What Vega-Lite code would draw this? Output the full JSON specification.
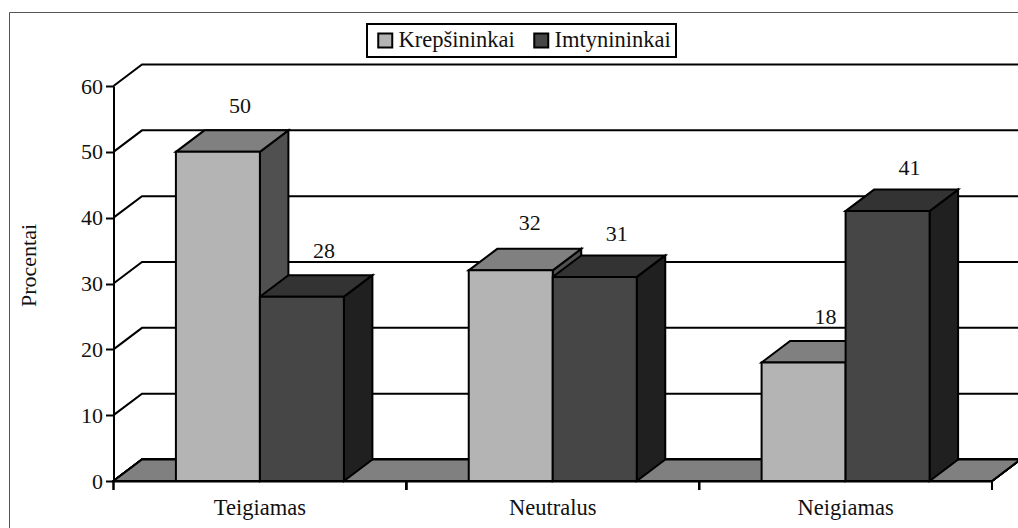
{
"$schema":"https://vega.github.io/schema/vega-lite/v6.json",
"width":1009,"height":516,
"autosize":{"type":"none"},
"padding":{"left":9,"top":12,"right":0,"bottom":0},
"background":"white",
"view":{"stroke":"#555555","strokeWidth":1,"fill":"white"},
"config":{"font":"Liberation Serif","legend":{"strokeWidth":2}},
"data":{"values":[
{"kategorija":"Teigiamas","grupe":"Krepšininkai","procentai":50},
{"kategorija":"Teigiamas","grupe":"Imtynininkai","procentai":28},
{"kategorija":"Neutralus","grupe":"Krepšininkai","procentai":32},
{"kategorija":"Neutralus","grupe":"Imtynininkai","procentai":31},
{"kategorija":"Neigiamas","grupe":"Krepšininkai","procentai":18},
{"kategorija":"Neigiamas","grupe":"Imtynininkai","procentai":41}
]},
"resolve":{"scale":{"fill":"independent"},"legend":{"fill":"independent"}},
"layer":[
{"mark":{"type":"point","filled":true,"opacity":1,"size":4,"fill":"#808080","stroke":"black","strokeWidth":2,
 "shape":"M-146.4 0L732 0L760.5 -21.5L-117.9 -21.5Z"},
 "encoding":{"x":{"datum":"Teigiamas","type":"nominal","scale":{"domain":["Teigiamas","Neutralus","Neigiamas"],"range":[104.5,983],"paddingInner":0.4263,"paddingOuter":0.2131}},
 "y":{"datum":0,"type":"quantitative","scale":{"domain":[0,60],"range":[469,74],"nice":false}}}},
{"data":{"values":[{"riba":10},{"riba":20},{"riba":30},{"riba":40},{"riba":50},{"riba":60}]},
 "mark":{"type":"point","filled":false,"opacity":1,"size":4,"stroke":"black","strokeWidth":2,
 "shape":"M-146.4 0L-117.9 -21.5L760.5 -21.5"},
 "encoding":{"x":{"datum":"Teigiamas","type":"nominal"},
 "y":{"field":"riba","type":"quantitative"}}},
{"mark":{"type":"point","filled":false,"opacity":1,"size":4,"stroke":"black","strokeWidth":2,
 "shape":"M-146.4 0L-146.4 9M146.4 0L146.4 9"},
 "encoding":{"x":{"field":"kategorija","type":"nominal"},
 "y":{"datum":0,"type":"quantitative"}}},
{"mark":{"type":"point","filled":true,"opacity":1,"size":4,"stroke":"black","strokeWidth":2},
 "encoding":{"x":{"field":"kategorija","type":"nominal"},
 "xOffset":{"field":"grupe","type":"nominal","scale":{"domain":["Krepšininkai","Imtynininkai"],"paddingInner":0,"paddingOuter":0}},
 "y":{"field":"procentai","type":"quantitative"},
 "fill":{"field":"grupe","type":"nominal","legend":null,"scale":{"domain":["Krepšininkai","Imtynininkai"],"range":["#505050","#202020"]}},
 "shape":{"field":"procentai","type":"nominal","legend":null,"scale":{"domain":[50,28,32,31,18,41],"range":[
 "M42 0L70.5 -21.5L70.5 307.7L42 329.2Z",
 "M42 0L70.5 -21.5L70.5 162.8L42 184.3Z",
 "M42 0L70.5 -21.5L70.5 189.2L42 210.7Z",
 "M42 0L70.5 -21.5L70.5 182.6L42 204.1Z",
 "M42 0L70.5 -21.5L70.5 97L42 118.5Z",
 "M42 0L70.5 -21.5L70.5 248.4L42 269.9Z"]}}}},
{"mark":{"type":"point","filled":true,"opacity":1,"size":4,"stroke":"black","strokeWidth":2,
 "shape":"M-42 0L42 0L70.5 -21.5L-13.5 -21.5Z"},
 "encoding":{"x":{"field":"kategorija","type":"nominal"},
 "xOffset":{"field":"grupe","type":"nominal"},
 "y":{"field":"procentai","type":"quantitative"},
 "fill":{"field":"grupe","type":"nominal","legend":null,"scale":{"domain":["Krepšininkai","Imtynininkai"],"range":["#808080","#333333"]}}}},
{"mark":{"type":"bar","stroke":"black","strokeWidth":2},
 "encoding":{"x":{"field":"kategorija","type":"nominal","title":null,
 "axis":{"orient":"bottom","offset":-47,"labelAngle":0,"labelAlign":"center","labelFontSize":22.5,"labelColor":"#111111","labelFont":"Liberation Serif","domainColor":"black","domainWidth":2,"ticks":false,"labelPadding":26,"zindex":1}},
 "xOffset":{"field":"grupe","type":"nominal"},
 "y":{"field":"procentai","type":"quantitative","title":"Procentai",
 "axis":{"orient":"left","offset":-104.5,"values":[0,10,20,30,40,50,60],"grid":false,"labelFontSize":22,"labelColor":"#111111","labelFont":"Liberation Serif","domainColor":"black","domainWidth":2,"tickColor":"black","tickWidth":2,"tickSize":8,"labelPadding":3,"titleFont":"Liberation Serif","titleFontWeight":"normal","titleFontSize":22,"titleColor":"#111111","titleX":-73,"titleY":253,"zindex":1}},
 "fill":{"field":"grupe","type":"nominal","scale":{"domain":["Krepšininkai","Imtynininkai"],"range":["#b4b4b4","#464646"]},
 "legend":{"title":null,"orient":"none","legendX":358,"legendY":12,"direction":"horizontal","columns":2,"symbolType":"square","symbolSize":196,"symbolStrokeColor":"black","symbolStrokeWidth":2,"labelFont":"Liberation Serif","labelFontSize":22.5,"labelColor":"#111111","strokeColor":"black","fillColor":"white","padding":5,"columnPadding":13,"labelOffset":2,"symbolOffset":2,"symbolOpacity":1}}}},
{"transform":[{"filter":{"field":"procentai","oneOf":[50,28,18]}}],
 "mark":{"type":"text","font":"Liberation Serif","fontSize":22,"color":"#111111","dx":22,"dy":-46,"baseline":"middle","align":"center"},
 "encoding":{"x":{"field":"kategorija","type":"nominal"},
 "xOffset":{"field":"grupe","type":"nominal"},
 "y":{"field":"procentai","type":"quantitative"},
 "text":{"field":"procentai","type":"quantitative"}}},
{"transform":[{"filter":{"field":"procentai","oneOf":[32]}}],
 "mark":{"type":"text","font":"Liberation Serif","fontSize":22,"color":"#111111","dx":19,"dy":-47,"baseline":"middle","align":"center"},
 "encoding":{"x":{"field":"kategorija","type":"nominal"},
 "xOffset":{"field":"grupe","type":"nominal"},
 "y":{"field":"procentai","type":"quantitative"},
 "text":{"field":"procentai","type":"quantitative"}}},
{"transform":[{"filter":{"field":"procentai","oneOf":[31,41]}}],
 "mark":{"type":"text","font":"Liberation Serif","fontSize":22,"color":"#111111","dx":22,"dy":-43,"baseline":"middle","align":"center"},
 "encoding":{"x":{"field":"kategorija","type":"nominal"},
 "xOffset":{"field":"grupe","type":"nominal"},
 "y":{"field":"procentai","type":"quantitative"},
 "text":{"field":"procentai","type":"quantitative"}}}
]
}
